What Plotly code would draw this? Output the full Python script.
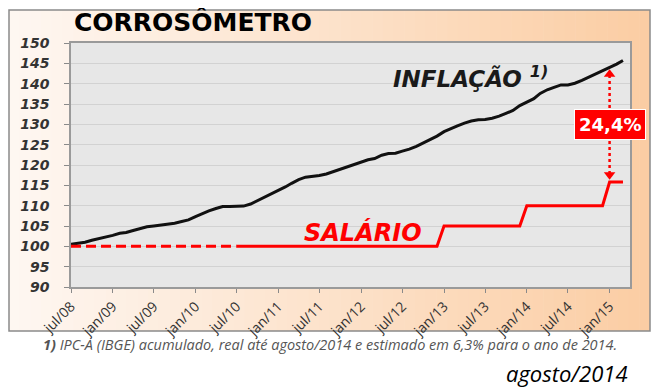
import pandas as pd
import plotly.graph_objects as go

# ---------------- data ----------------
months = pd.date_range("2008-07-01", "2015-03-01", freq="MS")

inflacao = [
    100.5, 100.8, 101.0, 101.5, 101.9, 102.2,
    102.7, 103.2, 103.4, 103.9, 104.4, 104.8, 105.0, 105.2, 105.4, 105.7, 106.1, 106.5,
    107.3, 108.1, 108.7, 109.3, 109.8, 109.8, 109.8, 109.9, 110.4, 111.2, 112.1, 112.8,
    113.7, 114.6, 115.5, 116.4, 117.0, 117.2, 117.4, 117.8, 118.4, 118.9, 119.5, 120.1,
    120.8, 121.3, 121.6, 122.4, 122.8, 122.9, 123.4, 123.9, 124.6, 125.4, 126.1, 127.1,
    128.2, 129.0, 129.6, 130.3, 130.8, 131.1, 131.2, 131.5, 132.0, 132.7, 133.4, 134.6,
    135.4, 136.3, 137.6, 138.5, 139.1, 139.7, 139.7, 140.1, 140.8, 141.6, 142.3, 143.1,
    143.9, 144.8, 145.7,
]

salario = [100.0] * 54 + [105.0] * 12 + [110.0] * 12 + [115.8] * 3

tick_dates = pd.date_range("2008-07-01", "2015-01-01", freq="6MS")
tick_labels = ["jul/08", "jan/09", "jul/09", "jan/10", "jul/10", "jan/11", "jul/11",
               "jan/12", "jul/12", "jan/13", "jul/13", "jan/14", "jul/14", "jan/15"]

gap_label = "24,4%"
n_dashed = 25          # salary drawn dashed up to jul/10
gap_index = 78         # jan/15

# ---------------- figure ----------------
OFF = 8                # page body margin
W, H = 660, 388
# desired plot area in window pixels: x 71..630, y 43..287
L = 71 - OFF
T = 43 - OFF
R = W - (630 - OFF)
B = H - (287 - OFF)
pw, ph = W - L - R, H - T - B


def px(x):
    return (x - OFF - L) / pw


def py(y):
    return (H - B - (y - OFF)) / ph


fig = go.Figure()

fig.add_trace(go.Scatter(
    x=months, y=inflacao, mode="lines",
    line=dict(color="#111111", width=3), hoverinfo="skip", showlegend=False))
fig.add_trace(go.Scatter(
    x=months[:n_dashed], y=salario[:n_dashed], mode="lines",
    line=dict(color="#ff0000", width=3, dash="10px,5px"), hoverinfo="skip", showlegend=False))
fig.add_trace(go.Scatter(
    x=months[n_dashed - 1:], y=salario[n_dashed - 1:], mode="lines",
    line=dict(color="#ff0000", width=3), hoverinfo="skip", showlegend=False))

shapes = []
# gradient frame background
x0f, x1f, y0f, y1f = 9, 650, 10, 331
n = 60
c0 = (254, 247, 242)
c1 = (251, 205, 163)
for i in range(n):
    a = x0f + (x1f - x0f) * i / n
    b = x0f + (x1f - x0f) * (i + 1) / n + 0.6
    t = (i + 0.5) / n
    col = tuple(round(c0[k] + (c1[k] - c0[k]) * t) for k in range(3))
    shapes.append(dict(type="rect", xref="paper", yref="paper",
                       x0=px(a), x1=px(min(b, x1f)), y0=py(y1f), y1=py(y0f),
                       fillcolor="rgb(%d,%d,%d)" % col, line=dict(width=0), layer="below"))
shapes.append(dict(type="rect", xref="paper", yref="paper",
                   x0=px(x0f), x1=px(x1f), y0=py(y1f), y1=py(y0f),
                   fillcolor="rgba(0,0,0,0)", line=dict(color="#8a8a8a", width=1.5), layer="below"))
# plot area fill
shapes.append(dict(type="rect", xref="paper", yref="paper", x0=0, x1=1, y0=0, y1=1,
                   fillcolor="#e7e7e7", line=dict(width=0), layer="below"))

# dotted gap line with arrowheads
gx = months[gap_index]
top = inflacao[gap_index]
bot = salario[gap_index]
shapes.append(dict(type="line", xref="x", yref="y", x0=gx, x1=gx, y0=bot + 2.0, y1=top - 1.6,
                   line=dict(color="#ff0000", width=2.5, dash="dot")))
fig.add_trace(go.Scatter(
    x=[gx, gx], y=[top - 1.6, bot + 1.8], mode="markers",
    marker=dict(symbol=["triangle-up", "triangle-down"], size=10, color="#ff0000",
                line=dict(width=0)),
    hoverinfo="skip", showlegend=False))

fig.update_layout(shapes=shapes)

annotations = [
    dict(x=gx, y=(top + bot) / 2, xref="x", yref="y", text="<b>" + gap_label + "</b>",
         showarrow=False, bgcolor="#ff0000", bordercolor="#ffffff", borderwidth=1, borderpad=4,
         font=dict(family="DejaVu Sans", size=18, color="#ffffff")),
    dict(x="2012-05-10", y=141.6, xref="x", yref="y", xanchor="left", yanchor="middle",
         text="INFLAÇÃO <sup>1)</sup>", showarrow=False,
         font=dict(family="DejaVu Sans", size=23, color="#1a1a1a", weight="bold", style="italic")),
    dict(x="2011-04-15", y=103.3, xref="x", yref="y", xanchor="left", yanchor="middle",
         text="SALÁRIO", showarrow=False,
         font=dict(family="DejaVu Sans", size=24, color="#ff0000", weight="bold", style="italic")),
    dict(x=px(72), y=py(22), xref="paper", yref="paper", xanchor="left", yanchor="middle",
         text="<b>CORROSÔMETRO</b>", showarrow=False,
         font=dict(family="DejaVu Sans", size=25, color="#000000")),
    dict(x=px(330), y=py(344), xref="paper", yref="paper", xanchor="center", yanchor="middle",
         text="<b>1)</b> IPC-A (IBGE) acumulado, real até agosto/2014 e estimado em 6,3% para o ano de 2014.",
         showarrow=False,
         font=dict(family="Open Sans", size=14.5, color="#555555", style="italic")),
    dict(x=px(630), y=py(373), xref="paper", yref="paper", xanchor="right", yanchor="middle",
         text="agosto/2014", showarrow=False,
         font=dict(family="Open Sans", size=22, color="#000000", style="italic")),
]
fig.update_layout(annotations=annotations)

fig.update_layout(
    width=W, height=H,
    margin=dict(l=L, r=R, t=T, b=B, pad=0),
    paper_bgcolor="#ffffff",
    plot_bgcolor="rgba(0,0,0,0)",
    showlegend=False,
    xaxis=dict(
        range=["2008-07-01", "2015-04-01"],
        tickmode="array", tickvals=tick_dates, ticktext=tick_labels,
        tickangle=-45, ticks="outside", ticklen=4, tickcolor="#8a8a8a",
        tickfont=dict(family="Open Sans", size=14, color="#333333"),
        showgrid=False, showline=True, linecolor="#9a9a9a", linewidth=1.5, mirror=True,
        zeroline=False,
    ),
    yaxis=dict(
        range=[90, 150], dtick=5, tick0=90,
        ticks="outside", ticklen=5, tickcolor="#8a8a8a", ticklabelstandoff=12,
        tickfont=dict(family="DejaVu Sans", size=14, color="#333333", weight="bold", style="italic"),
        showgrid=True, gridcolor="#d2d2d2", gridwidth=1,
        showline=True, linecolor="#9a9a9a", linewidth=1.5, mirror=True,
        zeroline=False,
    ),
)

fig.write_html("out.html")
